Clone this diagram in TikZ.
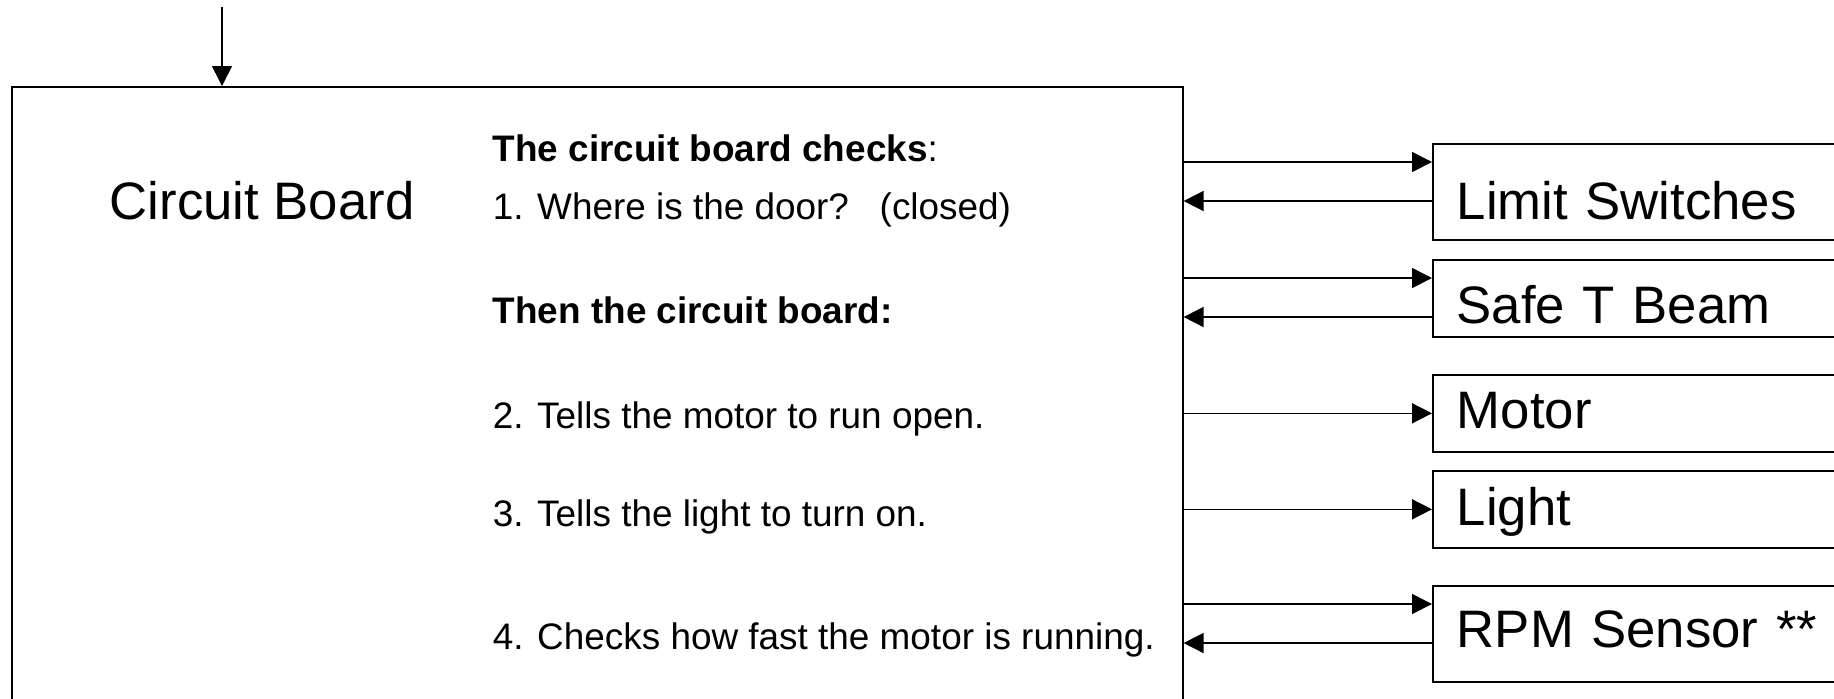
\documentclass[tikz,border=0pt]{standalone}
\usepackage{fontspec}
\setmainfont{Liberation Sans}
\usetikzlibrary{arrows.meta}

\tikzset{
  unit/.style={draw,anchor=north west,inner xsep=2.4mm,inner ysep=0pt,
    text width=4.2cm,align=left,font=\fontsize{15}{18}\selectfont},
  line/.style={anchor=base west,inner sep=0pt},
}

\begin{document}
\begin{tikzpicture}[>={Triangle[length=2mm,width=2mm]},line width=.45pt,
    font=\fontsize{10.5}{12.6}\selectfont]
  \useasboundingbox (0,0) rectangle (18.34,-6.98);
  \clip (0,0) rectangle (18.34,-6.98);
  % the board, runs off the bottom
  \node[draw,anchor=north west,inner sep=0pt,minimum width=11.71cm,
    minimum height=6.6cm] (board) at (0.11,-0.86) {};
  \node[line,font=\fontsize{15}{18}\selectfont] (title) at (1.09,-2.19) {Circuit Board};
  \node[line] (chk) at (4.92,-1.61) {\textbf{The circuit board checks}:};
  \node[line] (q1) at (4.92,-2.19) {1. Where is the door?\ \ \ (closed)};
  \node[line] (then) at (4.92,-3.23) {\textbf{Then the circuit board:}};
  \node[line] (s2) at (4.92,-4.28) {2. Tells the motor to run open.};
  \node[line] (s3) at (4.92,-5.26) {3. Tells the light to turn on.};
  \node[line] (s4) at (4.92,-6.49) {4. Checks how fast the motor is running.};
  % parts on the right
  \node[unit,text height=7.6mm,text depth=2mm] (ls) at (14.32,-1.43) {Limit Switches};
  \node[unit,text height=6.4mm,text depth=1.3mm] (stb) at (14.32,-2.59) {Safe T Beam};
  \node[unit,text height=5.4mm,text depth=2.3mm] (motor) at (14.32,-3.74) {Motor};
  \node[unit,text height=5.5mm,text depth=2.2mm] (light) at (14.32,-4.70) {Light};
  \node[unit,text height=6.2mm,text depth=3.4mm] (rpm) at (14.32,-5.85) {RPM Sensor **};
  % wiring
  \coordinate (in) at (2.22,-0.07);
  \draw[->] (in) -- (in |- board.north);
  \foreach \n in {ls,stb,rpm} {
    \draw[->] ([yshift=-1.9mm]board.east |- \n.north west) -- ([yshift=-1.9mm]\n.north west);
    \draw[<-] ([yshift=-5.8mm]board.east |- \n.north west) -- ([yshift=-5.8mm]\n.north west);
  }
  \foreach \n in {motor,light}
    \draw[->] (board.east |- \n.west) -- (\n.west);
\end{tikzpicture}
\end{document}
